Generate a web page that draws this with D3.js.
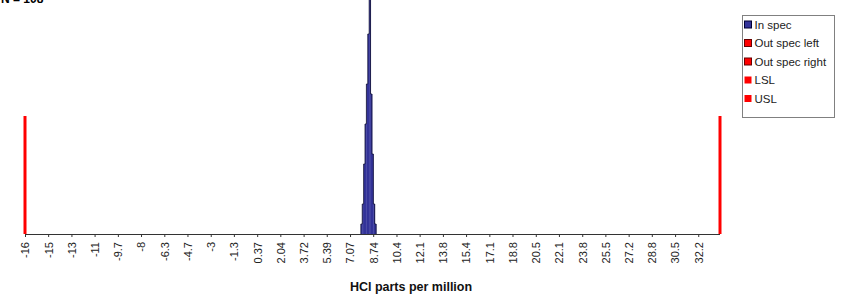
<!DOCTYPE html>
<html>
<head>
<meta charset="utf-8">
<script src="https://cdn.jsdelivr.net/npm/d3@7"></script>
<style>
  html, body { margin: 0; padding: 0; background: #fff; overflow: hidden; }
  svg { display: block; font-family: "Liberation Sans", Arial, sans-serif; }
</style>
</head>
<body>
<svg id="chart" width="842" height="295"></svg>
<script>
// histogram of HCl readings (bin width 0.1)
const binCenters = [7.9, 8.0, 8.1, 8.2, 8.3, 8.4, 8.5, 8.6, 8.7, 8.8, 8.9];
const binCounts  = [1, 3, 7, 11, 15, 20, 25, 14, 8, 3, 1];
const binWidth = 0.1;

// spec limits
const lsl = -16.38;
const usl = 33.76;
const specLineHeight = 11.8;

// axis ticks
const tickValues = [-16.38, -14.71, -13.03, -11.36, -9.68, -8.01, -6.33, -4.66, -2.98, -1.31,
  0.37, 2.04, 3.72, 5.39, 7.07, 8.74, 10.42, 12.09, 13.77, 15.44,
  17.12, 18.79, 20.47, 22.14, 23.82, 25.49, 27.17, 28.84, 30.52, 32.19];
const tickLabels = ["-16", "-15", "-13", "-11", "-9.7", "-8", "-6.3", "-4.7", "-3", "-1.3",
  "0.37", "2.04", "3.72", "5.39", "7.07", "8.74", "10.4", "12.1", "13.8", "15.4",
  "17.1", "18.8", "20.5", "22.1", "23.8", "25.5", "27.2", "28.8", "30.5", "32.2"];

const legendItems = [
  { name: "In spec", fill: "#333399", stroke: "#000033" },
  { name: "Out spec left", fill: "#ff0000", stroke: "#660000" },
  { name: "Out spec right", fill: "#ff0000", stroke: "#660000" },
  { name: "LSL", fill: "#ff0000", stroke: "none" },
  { name: "USL", fill: "#ff0000", stroke: "none" }
];

const svg = d3.select("#chart");
const baseY = 234;

const x = d3.scaleLinear().domain([lsl, usl]).range([25, 720]);
const y = d3.scaleLinear().domain([0, 23.4]).range([baseY, 0]);

// title (cut off at the top, as in the source)
svg.append("text")
  .attr("x", 1).attr("y", 3)
  .attr("font-size", 12).attr("font-weight", "bold")
  .attr("fill", "#000")
  .text("N = 108");

// histogram bars
const bins = binCenters.map((c, i) => ({ x0: c - binWidth / 2, x1: c + binWidth / 2, n: binCounts[i] }));

svg.append("g").selectAll("rect")
  .data(bins)
  .join("rect")
  .attr("x", d => x(d.x0))
  .attr("width", d => x(d.x1) - x(d.x0) + 0.3)
  .attr("y", d => y(d.n))
  .attr("height", d => baseY - y(d.n))
  .attr("fill", "#333399");

// outline of the histogram
const outline = [{ x: bins[0].x0, n: 0 }];
bins.forEach(b => { outline.push({ x: b.x0, n: b.n }); outline.push({ x: b.x1, n: b.n }); });
outline.push({ x: bins[bins.length - 1].x1, n: 0 });
svg.append("path")
  .datum(outline)
  .attr("d", d3.line().x(d => x(d.x)).y(d => y(d.n)))
  .attr("fill", "none")
  .attr("stroke", "#111133")
  .attr("stroke-width", 0.8);

// x axis
const axis = d3.axisBottom(x)
  .tickValues(tickValues)
  .tickSize(3)
  .tickFormat((d, i) => tickLabels[i]);

const gx = svg.append("g")
  .attr("transform", `translate(0,${baseY})`)
  .call(axis);
gx.select(".domain").attr("stroke", "#333").attr("d", `M${x(lsl)},0.5H${x(usl)}`);
gx.selectAll(".tick line").attr("stroke", "#333");
gx.selectAll(".tick text")
  .attr("font-family", "Liberation Sans, Arial, sans-serif")
  .attr("font-size", 11)
  .attr("fill", "#222")
  .attr("text-anchor", "end")
  .attr("transform", "rotate(-90)")
  .attr("x", -8)
  .attr("y", 0)
  .attr("dy", "0.35em");

// spec limit lines
svg.append("g").selectAll("line")
  .data([lsl, usl])
  .join("line")
  .attr("x1", d => x(d)).attr("x2", d => x(d))
  .attr("y1", y(specLineHeight)).attr("y2", baseY)
  .attr("stroke", "#ff0000")
  .attr("stroke-width", 3);

// axis title
svg.append("text")
  .attr("x", 411).attr("y", 291)
  .attr("text-anchor", "middle")
  .attr("font-size", 12.5).attr("font-weight", "bold")
  .attr("fill", "#111")
  .text("HCl parts per million");

// legend
const lg = svg.append("g").attr("transform", "translate(742.5,15.5)");
lg.append("rect")
  .attr("width", 92).attr("height", 102)
  .attr("fill", "#fff").attr("stroke", "#808080");

const items = lg.selectAll("g.item")
  .data(legendItems)
  .join("g")
  .attr("class", "item")
  .attr("transform", (d, i) => `translate(0,${9 + i * 18.5})`);

items.append("rect")
  .attr("x", 2).attr("y", -3.5)
  .attr("width", 7).attr("height", 7)
  .attr("fill", d => d.fill)
  .attr("stroke", d => d.stroke);

items.append("text")
  .attr("x", 12).attr("y", 0)
  .attr("dy", "0.35em")
  .attr("font-size", 11.5)
  .attr("fill", "#222")
  .text(d => d.name);
</script>
</body>
</html>
